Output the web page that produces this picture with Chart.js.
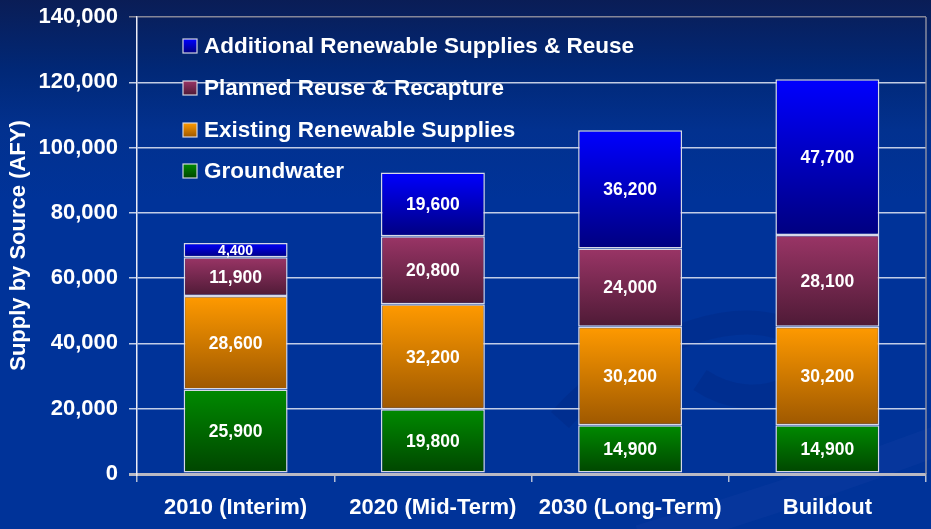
<!DOCTYPE html>
<html>
<head>
<meta charset="utf-8">
<script src="https://cdn.jsdelivr.net/npm/chart.js@4.4.1/dist/chart.umd.min.js"></script>
<style>
  html, body { margin: 0; padding: 0; }
  body {
    width: 931px; height: 529px; overflow: hidden;
    background: linear-gradient(to bottom, #0a1d56 0px, #012877 70px, #02318f 130px, #003399 200px, #003399 529px);
  }
  canvas { display: block; }
</style>
</head>
<body>
<canvas id="c" width="931" height="529"></canvas>
<script>
// ---- data ----
const categories = ['2010 (Interim)', '2020 (Mid-Term)', '2030 (Long-Term)', 'Buildout'];
const groundwater = [25900, 19800, 14900, 14900];
const existingRenewable = [28600, 32200, 30200, 30200];
const plannedReuse = [11900, 20800, 24000, 28100];
const additionalRenewable = [4400, 19600, 36200, 47700];
const seriesNames = ['Groundwater', 'Existing Renewable Supplies', 'Planned Reuse & Recapture', 'Additional Renewable Supplies & Reuse'];
const yTicks = [0, 20000, 40000, 60000, 80000, 100000, 120000, 140000];
const yTitle = 'Supply by Source (AFY)';

// ---- styling ----
const gradStops = [
  ['#008a00', '#004400'],   // green
  ['#ff9a00', '#9e5800'],   // orange
  ['#9a3566', '#4e1a36'],   // maroon
  ['#0000ff', '#000080']    // blue
];
const allSeries = [groundwater, existingRenewable, plannedReuse, additionalRenewable];
const FONT = '"Liberation Sans", Arial, Helvetica, sans-serif';
const fmt = v => v.toLocaleString('en-US');

function segFill(ctx) {
  const chart = ctx.chart;
  const d = ctx.datasetIndex;
  if (ctx.type !== 'data' || !chart.chartArea || !chart.scales.y) return gradStops[d][0];
  const i = ctx.dataIndex;
  let base = 0;
  for (let k = 0; k < d; k++) base += allSeries[k][i];
  const y = chart.scales.y;
  const top = y.getPixelForValue(base + allSeries[d][i]);
  const bot = y.getPixelForValue(base);
  const g = chart.ctx.createLinearGradient(0, top, 0, bot);
  g.addColorStop(0, gradStops[d][0]);
  g.addColorStop(1, gradStops[d][1]);
  return g;
}

const datasets = allSeries.map((data, d) => ({
  label: seriesNames[d],
  data: data,
  backgroundColor: segFill,
  borderColor: 'rgba(225,225,235,0.95)',
  borderWidth: 1.5,
  borderSkipped: false,
  categoryPercentage: 1.0,
  barPercentage: 0.527
}));

const bgPlugin = {
  id: 'bgDeco',
  beforeDraw(chart) {
    const c = chart.ctx;
    c.save();
    c.strokeStyle = 'rgba(0,25,100,0.16)';
    c.lineWidth = 24;
    c.beginPath();
    c.moveTo(560, 420);
    c.bezierCurveTo(640, 330, 760, 300, 800, 340);
    c.bezierCurveTo(830, 380, 760, 420, 700, 380);
    c.stroke();
    c.strokeStyle = 'rgba(40,80,180,0.14)';
    c.lineWidth = 30;
    c.beginPath();
    c.moveTo(640, 540);
    c.bezierCurveTo(760, 505, 860, 470, 940, 440);
    c.stroke();
    c.restore();
  },
  afterDraw(chart) {
    const a = chart.chartArea;
    const c = chart.ctx;
    c.save();
    c.strokeStyle = 'rgba(150,150,165,0.9)';
    c.lineWidth = 1.5;
    c.beginPath();
    c.moveTo(a.right, a.top);
    c.lineTo(a.right, a.bottom);
    c.stroke();
    // legend
    const items = [3, 2, 1, 0];
    const ys = [46, 88, 130, 171];
    items.forEach((d, k) => {
      const cy = ys[k];
      const g = c.createLinearGradient(0, cy - 7, 0, cy + 7);
      g.addColorStop(0, gradStops[d][0]);
      g.addColorStop(1, gradStops[d][1]);
      c.fillStyle = g;
      c.fillRect(183, cy - 7, 14, 14);
      c.strokeStyle = 'rgba(220,220,230,0.95)';
      c.lineWidth = 1.2;
      c.strokeRect(183, cy - 7, 14, 14);
      c.fillStyle = '#ffffff';
      c.font = 'bold 22.5px ' + FONT;
      c.textAlign = 'left';
      c.textBaseline = 'middle';
      c.fillText(seriesNames[d], 204, cy + 1);
    });
    c.restore();
  }
};

const labelPlugin = {
  id: 'segLabels',
  afterDatasetsDraw(chart) {
    const c = chart.ctx;
    c.save();
    c.fillStyle = '#ffffff';
    c.textAlign = 'center';
    c.textBaseline = 'middle';
    chart.data.datasets.forEach((ds, d) => {
      const meta = chart.getDatasetMeta(d);
      meta.data.forEach((el, i) => {
        const v = ds.data[i];
        const h = Math.abs(el.base - el.y);
        c.font = 'bold ' + (h < 25 ? 14 : 17.5) + 'px ' + FONT;
        c.fillText(fmt(v), el.x, (el.y + el.base) / 2 + 1);
      });
    });
    c.restore();
  }
};

new Chart(document.getElementById('c'), {
  type: 'bar',
  data: { labels: categories, datasets: datasets },
  options: {
    responsive: false,
    animation: false,
    events: [],
    layout: { padding: { top: 17, right: 5, left: 0, bottom: 0 } },
    plugins: { legend: { display: false }, tooltip: { enabled: false } },
    scales: {
      x: {
        stacked: true,
        offset: true,
        grid: {
          display: true, drawOnChartArea: false, drawTicks: true, tickLength: 8,
          color: 'rgba(200,205,220,0.9)', lineWidth: 1.5
        },
        border: { display: true, color: 'rgba(185,185,195,1)', width: 3 },
        ticks: { color: '#ffffff', font: { family: FONT, size: 22, weight: 'bold' }, padding: 13, maxRotation: 0 },
        afterFit(s) { s.height = 55; s.paddingLeft = 0; s.paddingRight = 0; }
      },
      y: {
        stacked: true,
        min: 0, max: 140000,
        afterBuildTicks(s) { s.ticks = yTicks.map(v => ({ value: v })); },
        grid: {
          drawTicks: true, tickLength: 8,
          color: ctx => ctx.tick && ctx.tick.value === 140000 ? 'rgba(140,140,155,0.95)' : (ctx.tick && ctx.tick.value === 0 ? 'rgba(185,185,195,1)' : 'rgba(215,222,240,0.9)'),
          lineWidth: ctx => ctx.tick && ctx.tick.value === 0 ? 3 : 1.5
        },
        border: { display: true, color: 'rgba(235,235,245,1)', width: 1.5 },
        ticks: {
          color: '#ffffff', padding: 11,
          font: { family: FONT, size: 22, weight: 'bold' },
          callback: v => fmt(v)
        },
        title: {
          display: true, text: yTitle, color: '#ffffff',
          font: { family: FONT, size: 22, weight: 'bold' },
          padding: { top: 6, bottom: 0 }
        },
        afterFit(s) { s.width = 137; s.paddingTop = 0; s.paddingBottom = 0; }
      }
    }
  },
  plugins: [bgPlugin, labelPlugin]
});
</script>
</body>
</html>
